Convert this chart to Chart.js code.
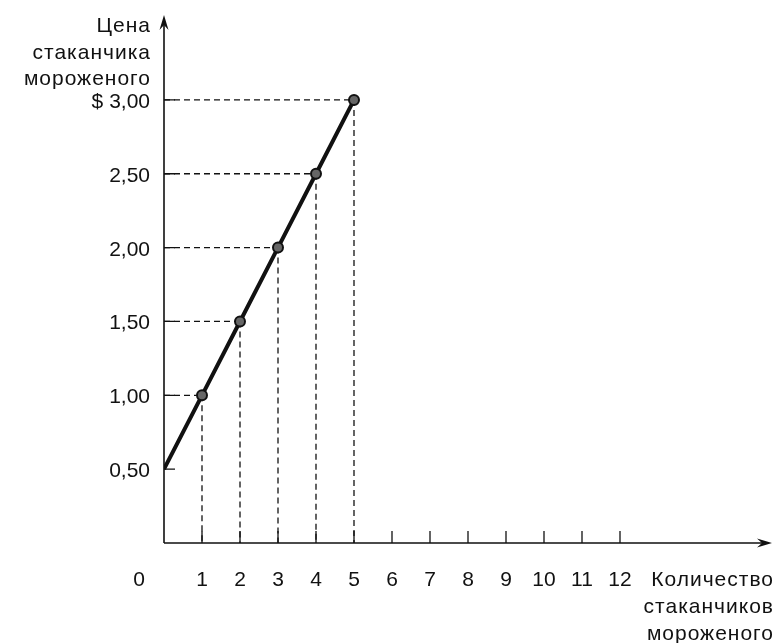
<!DOCTYPE html>
<html>
<head>
<meta charset="utf-8">
<script src="https://cdn.jsdelivr.net/npm/chart.js@4"></script>
<style>
  html, body { margin: 0; padding: 0; background: #fff; }
  canvas { display: block; }
</style>
</head>
<body>
<canvas id="supply" width="779" height="643"></canvas>
<script>
// Supply of ice cream cones: price vs quantity
const quantity = [0, 1, 2, 3, 4, 5];
const price = [0.5, 1.0, 1.5, 2.0, 2.5, 3.0];
const xTicks = [1, 2, 3, 4, 5, 6, 7, 8, 9, 10, 11, 12];
const yTicks = [0.5, 1.0, 1.5, 2.0, 2.5, 3.0];
const yTickLabels = ['0,50', '1,00', '1,50', '2,00', '2,50', '$ 3,00'];
const yTitle = ['Цена', 'стаканчика', 'мороженого'];
const xTitle = ['Количество', 'стаканчиков', 'мороженого'];

const FONT = '21px "Liberation Sans", Arial, sans-serif';
const INK = '#111';

const axesPlugin = {
  id: 'econAxes',
  beforeDatasetsDraw(chart) {
    const ctx = chart.ctx;
    const xs = chart.scales.x;
    const ys = chart.scales.y;
    const x0 = xs.getPixelForValue(0);
    const y0 = ys.getPixelForValue(0);
    const area = chart.chartArea;

    ctx.save();
    ctx.strokeStyle = INK;
    ctx.fillStyle = INK;

    // dashed guides from each marked point to both axes
    ctx.lineWidth = 1.3;
    ctx.setLineDash([6, 4]);
    for (let i = 1; i < quantity.length; i++) {
      const px = xs.getPixelForValue(quantity[i]);
      const py = ys.getPixelForValue(price[i]);
      ctx.beginPath();
      ctx.moveTo(x0, py);
      ctx.lineTo(px, py);
      ctx.stroke();
      ctx.beginPath();
      ctx.moveTo(px, py);
      ctx.lineTo(px, y0);
      ctx.stroke();
    }
    ctx.setLineDash([]);

    // axes
    ctx.lineWidth = 1.6;
    ctx.beginPath();
    ctx.moveTo(x0, y0);
    ctx.lineTo(x0, area.top + 4);
    ctx.moveTo(x0, y0);
    ctx.lineTo(area.right - 4, y0);
    ctx.stroke();

    // arrow heads
    ctx.beginPath();
    ctx.moveTo(x0, area.top);
    ctx.lineTo(x0 - 4.5, area.top + 15);
    ctx.lineTo(x0, area.top + 10);
    ctx.lineTo(x0 + 4.5, area.top + 15);
    ctx.closePath();
    ctx.fill();
    ctx.beginPath();
    ctx.moveTo(area.right, y0);
    ctx.lineTo(area.right - 15, y0 - 4.5);
    ctx.lineTo(area.right - 10, y0);
    ctx.lineTo(area.right - 15, y0 + 4.5);
    ctx.closePath();
    ctx.fill();

    // tick marks
    ctx.lineWidth = 1.3;
    ctx.beginPath();
    xTicks.forEach(v => {
      const px = xs.getPixelForValue(v);
      ctx.moveTo(px, y0);
      ctx.lineTo(px, y0 - 12);
    });
    yTicks.forEach(v => {
      const py = ys.getPixelForValue(v);
      ctx.moveTo(x0, py);
      ctx.lineTo(x0 + 11, py);
    });
    ctx.stroke();

    // labels
    ctx.font = FONT;
    ctx.textBaseline = 'alphabetic';
    ctx.textAlign = 'center';
    xTicks.forEach(v => {
      ctx.fillText(String(v), xs.getPixelForValue(v), y0 + 43);
    });
    ctx.fillText('0', x0 - 25, y0 + 43);

    ctx.textAlign = 'right';
    yTicks.forEach((v, i) => {
      ctx.fillText(yTickLabels[i], x0 - 14, ys.getPixelForValue(v) + 8);
    });
    ctx.letterSpacing = '1px';
    yTitle.forEach((t, i) => {
      ctx.fillText(t, x0 - 13, 32 + i * 26.5);
    });
    xTitle.forEach((t, i) => {
      ctx.fillText(t, area.right + 2, y0 + 43 + i * 27);
    });
    ctx.restore();
  }
};

new Chart(document.getElementById('supply'), {
  type: 'line',
  data: {
    datasets: [{
      data: quantity.map((q, i) => ({ x: q, y: price[i] })),
      borderColor: INK,
      borderWidth: 4,
      pointRadius: quantity.map(q => (q === 0 ? 0 : 5)),
      pointBackgroundColor: '#666',
      pointBorderColor: INK,
      pointBorderWidth: 2,
      tension: 0
    }]
  },
  options: {
    responsive: false,
    animation: false,
    layout: { padding: { left: 164, right: 2, top: 15, bottom: 100 } },
    plugins: { legend: { display: false }, tooltip: { enabled: false } },
    scales: {
      x: { type: 'linear', min: 0, max: 16, display: false },
      y: { type: 'linear', min: 0, max: 3.575, display: false }
    }
  },
  plugins: [axesPlugin]
});
</script>
</body>
</html>
